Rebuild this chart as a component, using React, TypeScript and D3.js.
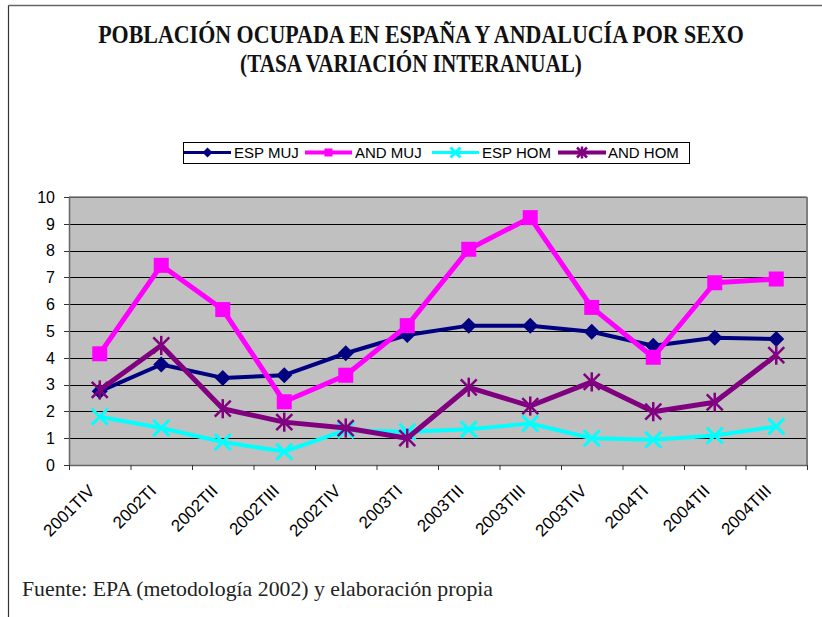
import React, { useLayoutEffect, useRef, useState } from "react";
import * as d3 from "d3";

const categories = [
  "2001TIV", "2002TI", "2002TII", "2002TIII", "2002TIV", "2003TI",
  "2003TII", "2003TIII", "2003TIV", "2004TI", "2004TII", "2004TIII",
];
const espMuj = [2.75, 3.75, 3.25, 3.35, 4.17, 4.85, 5.2, 5.2, 4.97, 4.45, 4.75, 4.7];
const andMuj = [4.15, 7.45, 5.8, 2.36, 3.35, 5.2, 8.05, 9.23, 5.88, 4.02, 6.8, 6.94];
const espHom = [1.8, 1.38, 0.86, 0.5, 1.3, 1.24, 1.33, 1.55, 1.0, 0.94, 1.1, 1.44];
const andHom = [2.8, 4.46, 2.1, 1.6, 1.38, 1.0, 2.9, 2.2, 3.1, 1.99, 2.34, 4.1];
const yTicks = [0, 1, 2, 3, 4, 5, 6, 7, 8, 9, 10];
const seriesNames = ["ESP MUJ", "AND MUJ", "ESP HOM", "AND HOM"];
const titleLines = ["POBLACIÓN OCUPADA EN ESPAÑA Y ANDALUCÍA POR SEXO", "(TASA VARIACIÓN INTERANUAL)"];
const footer = "Fuente: EPA (metodología 2002) y elaboración propia";

type Marker = "diamond" | "square" | "x" | "star";
const series: { name: string; values: number[]; color: string; width: number; marker: Marker }[] = [
  { name: seriesNames[0], values: espMuj, color: "#000080", width: 4, marker: "diamond" },
  { name: seriesNames[1], values: andMuj, color: "#FF00FF", width: 5, marker: "square" },
  { name: seriesNames[2], values: espHom, color: "#00FFFF", width: 4, marker: "x" },
  { name: seriesNames[3], values: andHom, color: "#800080", width: 5, marker: "star" },
];

function MarkerShape({ type, color, s }: { type: Marker; color: string; s: number }) {
  if (type === "diamond") {
    return <path d={`M0,${-s} L${s},0 L0,${s} L${-s},0 Z`} fill={color} />;
  }
  if (type === "square") {
    return <rect x={-s} y={-s} width={2 * s} height={2 * s} fill={color} />;
  }
  if (type === "x") {
    return (
      <g stroke={color} strokeWidth={3}>
        <line x1={-s} y1={-s} x2={s} y2={s} />
        <line x1={-s} y1={s} x2={s} y2={-s} />
      </g>
    );
  }
  return (
    <g stroke={color} strokeWidth={2.5}>
      <line x1={-s} y1={-s} x2={s} y2={s} />
      <line x1={-s} y1={s} x2={s} y2={-s} />
      <line x1={0} y1={-s * 1.2} x2={0} y2={s * 1.2} />
    </g>
  );
}

function CondensedText({ x, y, width, size, children }: { x: number; y: number; width: number; size: number; children: string }) {
  const ref = useRef<SVGTextElement>(null);
  const [sx, setSx] = useState(0.82);
  useLayoutEffect(() => {
    if (ref.current) {
      const w = ref.current.getComputedTextLength();
      if (w > 0) setSx(width / w);
    }
  }, [width, children]);
  return (
    <g transform={`translate(${x},${y}) scale(${sx},1)`}>
      <text ref={ref} x={0} y={0} textAnchor="middle" fontFamily="'Liberation Serif', 'Times New Roman', serif"
        fontWeight="bold" fontSize={size} fill="#111">{children}</text>
    </g>
  );
}

export default function App() {
  const W = 822, H = 617;
  const left = 69, right = 807, top = 197, bottom = 465;
  const x = d3.scaleBand<string>().domain(categories).range([left, right]).padding(0);
  const y = d3.scaleLinear().domain([0, 10]).range([bottom, top]);
  const bw = x.bandwidth();
  const cx = (c: string) => (x(c) as number) + bw / 2;
  const line = d3
    .line<number>()
    .x((_, i) => cx(categories[i]))
    .y((v) => y(v));

  const sans = "'Liberation Sans', Arial, sans-serif";
  const serif = "'Liberation Serif', 'Times New Roman', serif";

  const legendItems = [
    { lx1: 184, lx2: 231, tx: 234 },
    { lx1: 305, lx2: 352, tx: 355 },
    { lx1: 432, lx2: 479, tx: 482 },
    { lx1: 558, lx2: 606, tx: 608 },
  ];
  const boundaries = categories.map((c) => x(c) as number).concat([right]);

  return (
    <svg width={W} height={H} style={{ position: "absolute", left: 0, top: 0, background: "#fff" }}>
      <rect x={0} y={0} width={W} height={H} fill="#fff" />
      {/* frame */}
      <line x1={8.5} y1={5.5} x2={W} y2={5.5} stroke="#666" strokeWidth={1.5} />
      <line x1={8.5} y1={5.5} x2={8.5} y2={H} stroke="#333" strokeWidth={1.2} />

      {/* title */}
      <CondensedText x={421} y={43} width={646} size={25}>{titleLines[0]}</CondensedText>
      <CondensedText x={411} y={71.5} width={342} size={25}>{titleLines[1]}</CondensedText>

      {/* legend */}
      <rect x={183.5} y={142.5} width={506} height={21} fill="#fff" stroke="#000" strokeWidth={1} />
      {series.map((s, i) => {
        const it = legendItems[i];
        const my = 152.5;
        return (
          <g key={s.name}>
            <line x1={it.lx1} y1={my} x2={it.lx2} y2={my} stroke={s.color} strokeWidth={s.width - 1} />
            <g transform={`translate(${(it.lx1 + it.lx2) / 2},${my})`}>
              <MarkerShape type={s.marker} color={s.color} s={s.marker === "square" ? 4 : 5} />
            </g>
            <text x={it.tx} y={158} fontFamily={sans} fontSize={15} fill="#000">{s.name}</text>
          </g>
        );
      })}

      {/* plot area */}
      <rect x={left} y={top} width={right - left} height={bottom - top} fill="#C0C0C0" />
      {yTicks.map((t) => (
        <line key={t} x1={left} x2={right} y1={Math.round(y(t)) + 0.5} y2={Math.round(y(t)) + 0.5}
          stroke="#000" strokeWidth={1} />
      ))}
      <line x1={left} y1={top} x2={right} y2={top} stroke="#808080" strokeWidth={1.5} />
      <line x1={right} y1={top} x2={right} y2={bottom} stroke="#808080" strokeWidth={2} />
      <line x1={left + 0.5} y1={top} x2={left + 0.5} y2={bottom} stroke="#666" strokeWidth={1.5} />
      <line x1={left} y1={bottom + 0.5} x2={right} y2={bottom + 0.5} stroke="#666" strokeWidth={1.5} />

      {/* y axis ticks and labels */}
      {yTicks.map((t) => (
        <g key={t}>
          <line x1={left - 5} x2={left} y1={Math.round(y(t)) + 0.5} y2={Math.round(y(t)) + 0.5} stroke="#333" />
          <text x={55} y={y(t)} dy="0.36em" textAnchor="end" fontFamily={sans} fontSize={16} fill="#000">{t}</text>
        </g>
      ))}

      {/* x axis ticks and labels */}
      {boundaries.map((b, i) => (
        <line key={i} x1={b + 0.5} x2={b + 0.5} y1={bottom} y2={bottom + 5} stroke="#333" />
      ))}
      {categories.map((c) => (
        <text key={c} transform={`translate(${cx(c) - 4},${492}) rotate(-45)`} textAnchor="end"
          fontFamily={sans} fontSize={17} fill="#000">{c}</text>
      ))}

      {/* series */}
      {series.map((s) => (
        <g key={s.name}>
          <path d={line(s.values) as string} fill="none" stroke={s.color} strokeWidth={s.width}
            strokeLinejoin="round" />
          {s.values.map((v, i) => (
            <g key={i} transform={`translate(${cx(categories[i])},${y(v)})`}>
              <MarkerShape type={s.marker} color={s.color} s={s.marker === "square" ? 7.5 : 8} />
            </g>
          ))}
        </g>
      ))}

      {/* footer */}
      <text x={22} y={596} fontFamily={serif} fontSize={21} textLength={471} lengthAdjust="spacingAndGlyphs"
        fill="#222">{footer}</text>
    </svg>
  );
}
